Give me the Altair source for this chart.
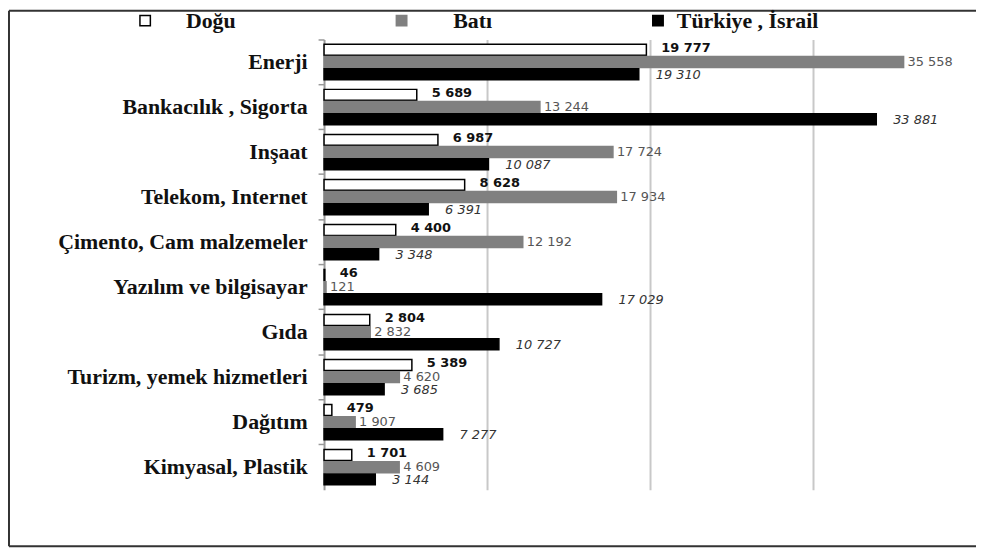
import altair as alt
import pandas as pd

categories = ["Enerji", "Bankacılık , Sigorta", "Inşaat", "Telekom, Internet",
              "Çimento, Cam malzemeler", "Yazılım ve bilgisayar", "Gıda",
              "Turizm, yemek hizmetleri", "Dağıtım", "Kimyasal, Plastik"]
series = ["Doğu", "Batı", "Türkiye , İsrail"]
dogu = [19777, 5689, 6987, 8628, 4400, 46, 2804, 5389, 479, 1701]
bati = [35558, 13244, 17724, 17934, 12192, 121, 2832, 4620, 1907, 4609]
turkiye = [19310, 33881, 10087, 6391, 3348, 17029, 10727, 3685, 7277, 3144]

rows = []
for s, vals in zip(series, [dogu, bati, turkiye]):
    for c, v in zip(categories, vals):
        rows.append({"cat": c, "series": s, "value": v,
                     "label": f"{v:,}".replace(",", " ")})
df = pd.DataFrame(rows)

NB = "\u00a0"
ZW = "\u200b"
pad = {"Doğu": ZW + NB * 4 + "Doğu" + NB + ZW, "Batı": ZW + NB * 6 + "Batı" + NB + ZW}
label_expr = ("datum.label == 'Doğu' ? '" + pad["Doğu"] + "' : datum.label == 'Batı' ? '"
              + pad["Batı"] + "' : datum.label")

W, H = 656, 453

y_enc = alt.Y("cat:N", sort=categories, title=None,
              scale=alt.Scale(paddingInner=0, paddingOuter=0),
              axis=alt.Axis(labelFont="Liberation Serif", labelFontWeight="bold",
                            labelFontSize=22, labelColor="#111", labelPadding=11,
                            tickSize=6, tickColor="#999", tickWidth=1.5,
                            domainColor="#999", domainWidth=2, bandPosition=0,
                            labelLimit=400, grid=False))
yoff = alt.YOffset("series:N", sort=series,
                   scale=alt.Scale(paddingInner=0.1, paddingOuter=0.4))
x_enc = alt.X("value:Q", title=None,
              scale=alt.Scale(domain=[0, 40000], nice=False, zero=True),
              axis=alt.Axis(values=[10000, 20000, 30000], labels=False, ticks=False,
                            domain=False, grid=True, gridColor="#c8c8c8", gridWidth=2))

bars = alt.Chart(df).mark_bar(strokeWidth=1.5).encode(
    y=y_enc, yOffset=yoff, x=x_enc,
    fill=alt.Fill("series:N", sort=series,
                  scale=alt.Scale(domain=series, range=["#ffffff", "#808080", "#000000"]),
                  legend=alt.Legend(title=None, orient="none", legendX=-191, legendY=-30,
                                    direction="horizontal", labelExpr=label_expr)),
    stroke=alt.Stroke("series:N", sort=series,
                      scale=alt.Scale(domain=series, range=["#000000", "#808080", "#000000"]),
                      legend=None),
)

def txt(s, dx, dy, weight, style, color):
    return alt.Chart(df[df.series == s]).mark_text(
        align="left", baseline="middle", dx=dx, dy=dy, font="DejaVu Sans",
        fontSize=13, fontWeight=weight, fontStyle=style, color=color
    ).encode(y=alt.Y("cat:N", sort=categories), yOffset=yoff,
             x=alt.X("value:Q"), text="label:N")

t1 = txt("Doğu", 15, -2, "bold", "normal", "#111111")
t2 = txt("Batı", 4, 0, "normal", "normal", "#555555")
t3 = txt("Türkiye , İsrail", 17, 1, "normal", "italic", "#333333")

fc = "#333333"
left = alt.Chart(pd.DataFrame({"a": [1]})).mark_rule(color=fc, strokeWidth=2).encode(
    x=alt.value(-317), y=alt.value(-29), y2=alt.value(510))
top = alt.Chart(pd.DataFrame({"b": [2]})).mark_rule(color=fc, strokeWidth=2).encode(
    x=alt.value(-317), x2=alt.value(720), y=alt.value(-29))
bottom = alt.Chart(pd.DataFrame({"c": [3]})).mark_rule(color=fc, strokeWidth=2).encode(
    x=alt.value(-317), x2=alt.value(720), y=alt.value(510))

chart = alt.layer(bars, t1, t2, t3, left, top, bottom).properties(
    width=W, height=H,
    autosize=alt.AutoSizeParams(type="none"),
    padding={"left": 318, "top": 30, "right": 0, "bottom": 60},
).configure_view(stroke=None).configure_legend(
    labelFont="Liberation Serif", labelFontWeight="bold", labelFontSize=22,
    labelColor="#111", symbolType="square", symbolSize=110, labelOffset=8,
    columnPadding=150, padding=0, symbolStrokeColor="#444", symbolStrokeWidth=1.5,
    labelLimit=400,
).resolve_scale(yOffset="shared")

chart.save("out.html", embed_options={"renderer": "svg", "actions": False})
